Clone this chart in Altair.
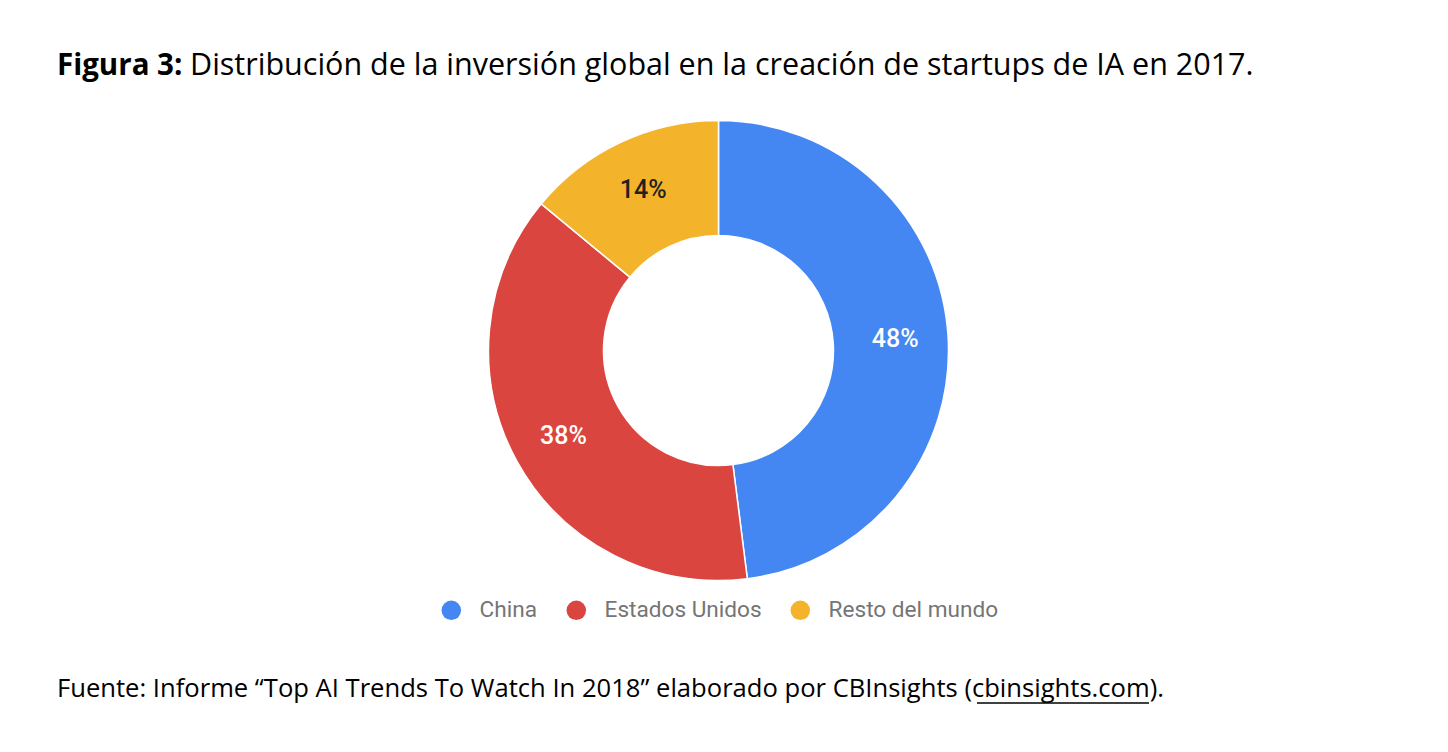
import altair as alt
import pandas as pd

categories = ["China", "Estados Unidos", "Resto del mundo"]
values = [48, 38, 14]
colors = ["#4587F2", "#DB4540", "#F3B42B"]

title_bold = "Figura 3:"
title_rest = "Distribución de la inversión global en la creación de startups de IA en 2017."
source_text = "Fuente: Informe “Top AI Trends To Watch In 2018” elaborado por CBInsights (cbinsights.com)."

df = pd.DataFrame({
    "category": categories,
    "value": values,
    "idx": list(range(len(categories))),
    "label": [f"{v}%" for v in values],
})

CX, CY = 710.5, 342.5

base = alt.Chart(df)

arcs = base.mark_arc(outerRadius=230, innerRadius=115, stroke="white", strokeWidth=1.5).encode(
    theta=alt.Theta("value:Q", stack=True),
    color=alt.Color(
        "category:N",
        scale=alt.Scale(domain=categories, range=colors),
        legend=alt.Legend(
            title=None,
            orient="none",
            legendX=432,
            legendY=591,
            direction="horizontal",
            symbolType="circle",
            symbolSize=380,
            symbolStrokeWidth=0,
            labelFont="Roboto",
            labelFontSize=22.6,
            labelColor="#757575",
            labelOffset=17,
            labelLimit=400,
            columnPadding=27,
        ),
    ),
    order=alt.Order("idx:Q"),
    x=alt.value(CX),
    y=alt.value(CY),
)

labels = base.mark_text(radius=177, font="Roboto", fontSize=25, fontWeight=500,
                        align="center", baseline="middle").encode(
    theta=alt.Theta("value:Q", stack=True),
    order=alt.Order("idx:Q"),
    text="label:N",
    color=alt.condition(alt.datum.category == "Resto del mundo", alt.value("#212121"), alt.value("#ffffff")),
    x=alt.value(CX),
    y=alt.value(CY),
)

def txt(s, x, y, size, weight="normal", font="Open Sans", align="left"):
    return alt.Chart(pd.DataFrame({"t": [s]})).mark_text(
        font=font, fontSize=size, fontWeight=weight, align=align, baseline="alphabetic", color="#000000"
    ).encode(text="t:N", x=alt.value(x), y=alt.value(y))

t1 = txt(title_bold, 49, 67, 29.5, weight="bold")
t2 = txt(title_rest, 182, 67, 30.5)
f1 = txt(source_text, 49, 689, 25.6)

underline = alt.Chart(pd.DataFrame({"a": [0]})).mark_rule(color="#000000", strokeWidth=1.5).encode(
    x=alt.value(969), x2=alt.value(1141), y=alt.value(695)
)

chart = alt.layer(arcs, labels, t1, t2, f1, underline).properties(
    width=1432, height=736, autosize="none", padding=0
).configure_view(strokeWidth=0)

chart.save("out.html", embed_options={"renderer": "svg", "actions": False})
